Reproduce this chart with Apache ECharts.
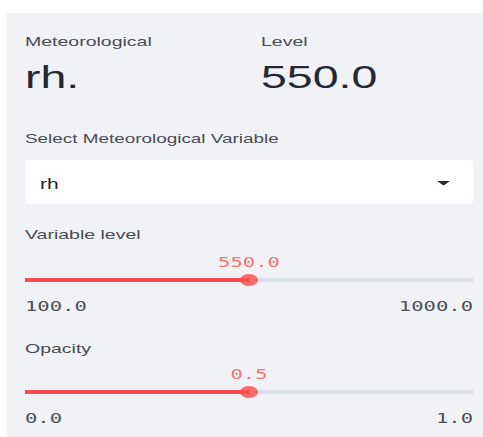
<!DOCTYPE html>
<html>
<head>
<meta charset="utf-8">
<script src="https://cdn.jsdelivr.net/npm/echarts@6/dist/echarts.min.js"></script>
<style>
  html, body { margin: 0; padding: 0; background: #ffffff; overflow: hidden; }
  #wrap { width: 483px; height: 437px; overflow: hidden; }
  #chart { width: 322px; height: 437px; transform: scaleX(1.5); transform-origin: 0 0; }
</style>
</head>
<body>
<div id="wrap"><div id="chart"></div></div>
<script>
// ---- data ----
const metricLabels = ['Meteorological', 'Level'];
const metricValues = ['rh.', '550.0'];
const selectLabel = 'Select Meteorological Variable';
const selectOptions = ['rh'];
const selectedOption = 'rh';
const sliderNames = ['Variable level', 'Opacity'];
const sliderMin = [100.0, 0.0];
const sliderMax = [1000.0, 1.0];
const sliderValue = [550.0, 0.5];

// ---- styles / layout ----
const SANS = 'Liberation Sans';
const MONO = 'DejaVu Sans Mono';
const RED = '#ff4b4b';
const TRACK = '#dadee9';
const LABEL = '#4a4c55';
const DARK = '#262730';
const panelLeft = 4.7, panelTop = 13;
const contentLeft = 16.67, contentWidth = 298.67;
const trackY = [280, 392];
const titleY = [235, 349];
const metricX = [contentLeft, 174];

const fmt = v => Number(v).toFixed(1);

const graphic = [
  { type: 'rect', shape: { x: panelLeft, y: panelTop, width: 322 - panelLeft, height: 437 - panelTop }, style: { fill: '#f0f2f6' }, z: -10, silent: true },
  { type: 'rect', shape: { x: contentLeft, y: 160, width: contentWidth, height: 44, r: 3 }, style: { fill: '#ffffff' }, z: -5, silent: true },
  { type: 'polygon', shape: { points: [[291.4, 181], [300.0, 181], [295.7, 185.5]] }, style: { fill: '#262730' }, silent: true },
  { type: 'text', x: contentLeft, y: 138, style: { text: selectLabel, font: '12.6px ' + SANS, fill: LABEL, verticalAlign: 'middle' } },
  { type: 'text', x: 26.7, y: 184, style: { text: selectedOption, font: '14px ' + SANS, fill: DARK, verticalAlign: 'middle' } }
];
metricLabels.forEach((t, i) => {
  graphic.push({ type: 'text', x: metricX[i], y: 41.5, style: { text: t, font: '13px ' + SANS, fill: LABEL, verticalAlign: 'middle' } });
  graphic.push({ type: 'text', x: metricX[i], y: 77, style: { text: metricValues[i], font: '31px ' + SANS, fill: DARK, verticalAlign: 'middle' } });
});
sliderNames.forEach((t, i) => {
  graphic.push({ type: 'text', x: contentLeft, y: titleY[i], style: { text: t, font: '13px ' + SANS, fill: LABEL, verticalAlign: 'middle' } });
});

const grid = [], xAxis = [], yAxis = [], series = [];
sliderNames.forEach((name, i) => {
  grid.push({ left: contentLeft, width: contentWidth, top: trackY[i] - 1, height: 2 });
  yAxis.push({ gridIndex: i, type: 'value', min: -1, max: 1, show: false });
  const labelBase = { fontFamily: MONO, fontSize: 13.7, color: '#4e5058', lineHeight: 14, margin: 18, formatter: fmt };
  xAxis.push({ gridIndex: i, type: 'value', min: sliderMin[i], max: sliderMax[i], position: 'bottom',
    axisLine: { show: false }, axisTick: { show: false }, splitLine: { show: false },
    axisLabel: Object.assign({ customValues: [sliderMin[i]], align: 'left' }, labelBase) });
  xAxis.push({ gridIndex: i, type: 'value', min: sliderMin[i], max: sliderMax[i], position: 'bottom',
    axisLine: { show: false }, axisTick: { show: false }, splitLine: { show: false },
    axisLabel: Object.assign({ customValues: [sliderMax[i]], align: 'right' }, labelBase) });
  series.push({ type: 'line', xAxisIndex: 2 * i, yAxisIndex: i, symbol: 'none', silent: true,
    data: [[sliderMin[i], 0], [sliderMax[i], 0]], lineStyle: { color: TRACK, width: 4, cap: 'butt' }, z: 1 });
  series.push({ type: 'line', xAxisIndex: 2 * i, yAxisIndex: i, symbol: 'none', silent: true,
    data: [[sliderMin[i], 0], [sliderValue[i], 0]], lineStyle: { color: RED, width: 4, cap: 'butt' }, z: 2 });
  series.push({ type: 'scatter', xAxisIndex: 2 * i, yAxisIndex: i, symbol: 'circle', symbolSize: 12, silent: true,
    data: [[sliderValue[i], 0]], itemStyle: { color: RED }, z: 3,
    label: { show: true, position: 'top', distance: 5, formatter: p => fmt(p.value[0]),
      fontFamily: MONO, fontSize: 13.7, lineHeight: 14, color: RED } });
});

const chart = echarts.init(document.getElementById('chart'), null, { renderer: 'svg', width: 322, height: 437 });
chart.setOption({
  animation: false,
  backgroundColor: '#ffffff',
  graphic: graphic,
  grid: grid,
  xAxis: xAxis,
  yAxis: yAxis,
  series: series
});
</script>
</body>
</html>
